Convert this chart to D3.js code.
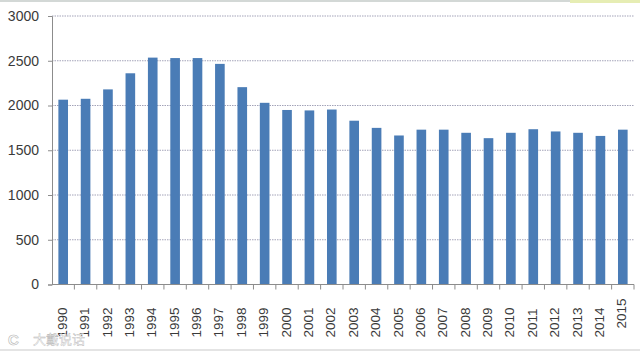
<!DOCTYPE html>
<html>
<head>
<meta charset="utf-8">
<script src="https://cdn.jsdelivr.net/npm/d3@7"></script>
<style>
    html, body { margin: 0; padding: 0; background: #fff; }
    svg { display: block; }
    text { font-family: "Liberation Sans", Arial, sans-serif; fill: #3a3a3a; }
</style>
</head>
<body>
<div id="draw_here"></div>
<script type="text/javascript">
    // Values
    const years = ["1990","1991","1992","1993","1994","1995","1996","1997","1998","1999","2000","2001","2002",
        "2003","2004","2005","2006","2007","2008","2009","2010","2011","2012","2013","2014","2015"]
    const values = [2065,2075,2180,2360,2535,2530,2530,2465,2205,2030,1950,1945,1955,
        1830,1750,1665,1730,1730,1695,1635,1695,1735,1710,1695,1660,1730]
    const yTicks = [0,500,1000,1500,2000,2500,3000]

    const canvas = ({width:640, height:351})
    const margin = ({top: 16, right: 6, bottom: 66.5, left: 52})
    const blue = "#4a7cb6"

    const x = d3.scaleBand()
        .domain(years)
        .range([margin.left, canvas.width - margin.right])
        .paddingInner(0.57)
        .paddingOuter(0.285)

    const y = d3.scaleLinear()
        .domain([0, 3000])
        .range([canvas.height - margin.bottom, margin.top])

    const svg = d3.select("#draw_here").append("svg")
        .attr("width", canvas.width)
        .attr("height", canvas.height)

    // Screenshot edges
    svg.append("rect").attr("width", canvas.width).attr("height", 2).attr("fill", "#d3d8d6")
    svg.append("rect").attr("x", 570).attr("width", 70).attr("height", 3).attr("fill", "#e6edb4")
    svg.append("rect").attr("y", 349).attr("width", canvas.width).attr("height", 2).attr("fill", "#e4e4e4")

    // Grid
    svg.append("g").selectAll("line")
        .data(yTicks.filter(d => d > 0))
        .join("line")
        .attr("x1", margin.left)
        .attr("x2", canvas.width - margin.right)
        .attr("y1", d => y(d))
        .attr("y2", d => y(d))
        .attr("stroke", "#a3a3b8")
        .attr("stroke-width", 1)
        .attr("stroke-dasharray", "1.5,1")

    // Bars
    svg.append("g").selectAll("rect")
        .data(values)
        .join("rect")
        .attr("x", (d, i) => x(years[i]))
        .attr("y", d => y(d))
        .attr("width", x.bandwidth())
        .attr("height", d => y(0) - y(d))
        .attr("fill", blue)

    // Y axis
    const yAxis = svg.append("g")
        .attr("transform", `translate(${margin.left},0)`)
        .call(d3.axisLeft(y).tickValues(yTicks).tickFormat(d3.format("d")).tickSize(4).tickPadding(9))
    yAxis.select(".domain").attr("stroke", "#8c8c8c")
    yAxis.selectAll(".tick line").attr("stroke", "#8c8c8c")
    yAxis.selectAll("text").style("font-size", "14px").attr("fill", "#3a3a3a")

    // X axis, ticks sit between the bars
    const step = x.step()
    const xAxis = svg.append("g")
        .attr("transform", `translate(0,${y(0)})`)
    xAxis.append("line")
        .attr("x1", margin.left)
        .attr("x2", canvas.width - margin.right)
        .attr("stroke", "#8c8c8c")
    xAxis.selectAll("line.tick")
        .data(years)
        .join("line")
        .attr("class", "tick")
        .attr("x1", d => x(d) + x.bandwidth() + (step - x.bandwidth()) / 2)
        .attr("x2", d => x(d) + x.bandwidth() + (step - x.bandwidth()) / 2)
        .attr("y2", 5)
        .attr("stroke", "#8c8c8c")
    xAxis.selectAll("text")
        .data(years)
        .join("text")
        .attr("text-anchor", "start")
        .attr("dominant-baseline", "middle")
        .attr("transform", d => `translate(${x(d) + x.bandwidth() / 2},${d === "2015" ? 44 : 53}) rotate(-90)`)
        .style("font-size", "13.5px")
        .text(d => d)

    // Watermark
    svg.append("text")
        .attr("x", 8)
        .attr("y", 345)
        .style("font-size", "15px")
        .style("font-weight", "bold")
        .style("fill", "#ffffff")
        .style("stroke", "#b5b5b5")
        .style("stroke-width", 0.6)
        .text("C")
    svg.append("text")
        .attr("x", 33)
        .attr("y", 344)
        .style("font-family", "'Noto Sans CJK SC'")
        .style("font-size", "13px")
        .style("fill", "#ffffff")
        .style("stroke", "#b5b5b5")
        .style("stroke-width", 0.4)
        .text("大戴说话")
</script>
</body>
</html>
